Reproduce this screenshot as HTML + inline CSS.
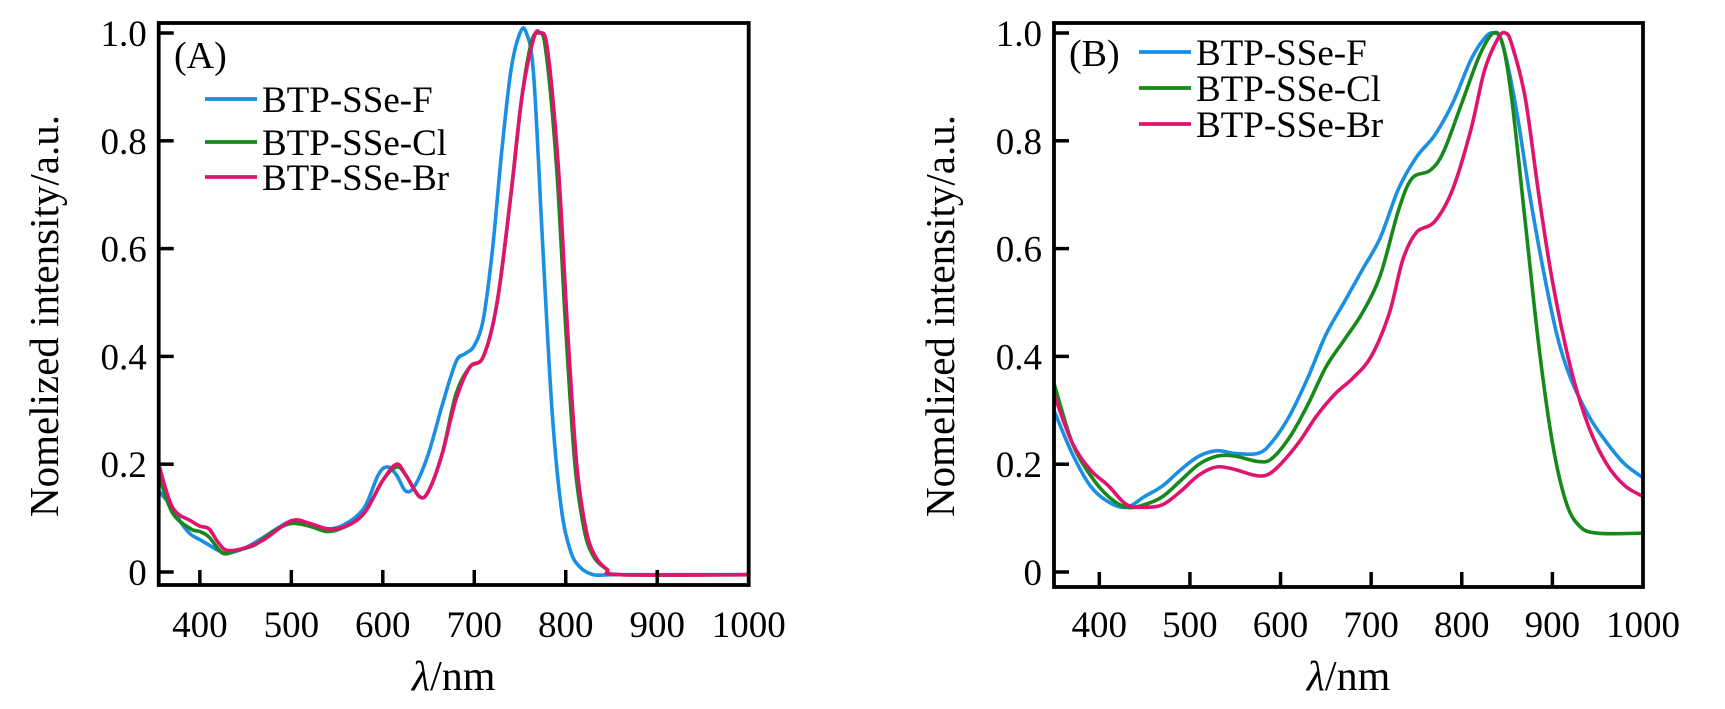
<!DOCTYPE html>
<html><head><meta charset="utf-8"><style>
html,body{margin:0;padding:0;background:#fff;}
svg{display:block;font-family:"Liberation Serif",serif;}
</style></head><body>
<svg id="fig" width="1725" height="709" viewBox="0 0 1725 709" xmlns="http://www.w3.org/2000/svg"></svg>
<script>
const xTicks = [400,500,600,700,800,900,1000];
const yTicks = [0,0.2,0.4,0.6,0.8,1.0];
const yTickLabels = ["0","0.2","0.4","0.6","0.8","1.0"];
const seriesNames = ["BTP-SSe-F","BTP-SSe-Cl","BTP-SSe-Br"];
const colors = ["#1a8fe3","#17891a","#e0146e"];

const aF_x = [355,370,380,390,400,410,420,430,450,470,500,520,540,560,580,595,605,615,625,635,650,665,680,690,700,710,720,730,740,750,757,765,775,785,795,805,815,830,850,900,1000];
const aF_y = [0.15,0.12,0.09,0.07,0.06,0.05,0.04,0.035,0.045,0.065,0.095,0.09,0.08,0.09,0.12,0.18,0.195,0.18,0.15,0.16,0.22,0.31,0.39,0.405,0.42,0.47,0.6,0.78,0.93,1.0,1.0,0.92,0.6,0.3,0.12,0.04,0.01,-0.005,-0.005,-0.005,-0.005];
const aCl_x = [355,370,390,400,410,425,440,460,480,500,520,540,560,580,600,615,625,640,650,665,680,695,710,725,740,752,762,770,778,790,800,810,820,830,845,860,1000];
const aCl_y = [0.18,0.11,0.08,0.075,0.065,0.035,0.04,0.05,0.075,0.09,0.085,0.075,0.085,0.11,0.17,0.195,0.18,0.14,0.15,0.22,0.33,0.38,0.40,0.5,0.7,0.88,0.98,1.0,0.97,0.75,0.45,0.2,0.08,0.03,0.005,-0.005,-0.005];
const aBr_x = [355,370,390,400,410,420,430,450,470,500,520,540,560,580,600,615,625,640,650,665,680,695,710,725,740,752,765,772,780,792,802,812,822,832,845,860,1000];
const aBr_y = [0.2,0.12,0.095,0.085,0.08,0.055,0.04,0.045,0.06,0.095,0.09,0.08,0.085,0.11,0.17,0.2,0.18,0.14,0.15,0.22,0.32,0.38,0.40,0.5,0.7,0.88,0.99,1.0,0.97,0.75,0.45,0.2,0.08,0.03,0.005,-0.005,-0.005];

const bF_x = [350,370,390,410,430,450,470,490,510,530,550,575,590,610,630,650,670,690,710,730,750,770,790,810,825,835,845,860,875,890,905,920,940,960,980,1000];
const bF_y = [0.30,0.22,0.16,0.13,0.12,0.14,0.16,0.19,0.215,0.225,0.22,0.22,0.24,0.29,0.36,0.44,0.5,0.56,0.62,0.71,0.77,0.81,0.87,0.95,0.99,1.0,0.98,0.86,0.7,0.56,0.44,0.36,0.29,0.24,0.2,0.175];
const bCl_x = [350,370,390,410,430,450,470,490,510,530,550,575,590,610,630,650,670,690,710,730,745,765,780,800,820,835,845,855,870,885,900,915,930,950,1000];
const bCl_y = [0.35,0.24,0.18,0.14,0.12,0.125,0.14,0.17,0.2,0.215,0.215,0.205,0.21,0.25,0.31,0.38,0.43,0.48,0.55,0.67,0.73,0.745,0.78,0.87,0.96,1.0,0.98,0.88,0.65,0.42,0.24,0.13,0.085,0.072,0.072];
const bBr_x = [350,370,390,410,430,450,470,490,510,530,550,570,585,600,620,640,660,680,700,720,735,750,770,790,810,825,840,848,855,870,885,900,920,940,960,980,1000];
const bBr_y = [0.33,0.24,0.19,0.16,0.125,0.12,0.125,0.15,0.18,0.195,0.19,0.18,0.18,0.2,0.24,0.29,0.33,0.36,0.4,0.48,0.58,0.63,0.65,0.71,0.82,0.93,0.99,1.0,0.98,0.88,0.7,0.54,0.38,0.27,0.2,0.16,0.14];

const NS = "http://www.w3.org/2000/svg";
const svg = document.getElementById('fig');
function mk(tag, attrs, parent){ const e=document.createElementNS(NS,tag); for(const k in attrs) e.setAttribute(k,attrs[k]); (parent||svg).appendChild(e); return e; }
function smooth(P){
  let d='M'+P[0][0].toFixed(1)+','+P[0][1].toFixed(1);
  for(let i=0;i<P.length-1;i++){
    const p0=P[Math.max(0,i-1)],p1=P[i],p2=P[i+1],p3=P[Math.min(P.length-1,i+2)];
    const c1=[p1[0]+(p2[0]-p0[0])/6,p1[1]+(p2[1]-p0[1])/6];
    const c2=[p2[0]-(p3[0]-p1[0])/6,p2[1]-(p3[1]-p1[1])/6];
    d+=' C'+c1[0].toFixed(1)+','+c1[1].toFixed(1)+' '+c2[0].toFixed(1)+','+c2[1].toFixed(1)+' '+p2[0].toFixed(1)+','+p2[1].toFixed(1);
  }
  return d;
}

function panel(cfg){
  const g = mk('g',{});
  
  
  const L=cfg.left,R=cfg.right,T=cfg.top,B=cfg.bottom;
  const xs = v => L + (v-cfg.xmin)/(1000-cfg.xmin)*(R-L);
  const ys = v => cfg.y0 - v*(cfg.y0-cfg.y1);
  const clip = mk('clipPath',{id:cfg.name+'-clip'},g);
  mk('rect',{x:L,y:T,width:R-L,height:B-T},clip);
  cfg.series.forEach((s,i)=>{
    const P = s[0].map((x,j)=>[xs(x),ys(s[1][j])]);
    const pl = mk('path',{d:smooth(P),fill:'none',stroke:colors[i],'stroke-width':3.6,'stroke-linejoin':'round','clip-path':'url(#'+cfg.name+'-clip)'},g);
    
    
  });
  const fr = mk('rect',{x:L,y:T,width:R-L,height:B-T,fill:'none',stroke:'#000','stroke-width':3.8},g);
  
  
  xTicks.forEach(v=>{
    const x=xs(v);
    if(v<1000) mk('line',{x1:x,x2:x,y1:B,y2:B-15,stroke:'#000','stroke-width':3.5},g);
    const t = mk('text',{x:x,y:637,'font-size':37,'text-anchor':'middle'},g);
    t.textContent = v;
    
    
  });
  yTicks.forEach((v,i)=>{
    const y=ys(v);
    mk('line',{x1:L,x2:L+15,y1:y,y2:y,stroke:'#000','stroke-width':3.5},g);
    const t = mk('text',{x:L-12,y:y+13,'font-size':37,'text-anchor':'end'},g);
    t.textContent = yTickLabels[i];
    
    
  });
  const yt = mk('text',{x:0,y:0,'font-size':41,'text-anchor':'middle',transform:'translate('+cfg.ylx+',316) rotate(-90)'},g);
  yt.textContent = 'Nomelized intensity/a.u.';
  
  
  const xt = mk('text',{x:(L+R)/2,y:690,'font-size':42,'text-anchor':'middle'},g);
  xt.innerHTML = '<tspan font-style="italic">λ</tspan>/nm';
  
  
  const pl = mk('text',{x:cfg.lab[0],y:cfg.lab[1],'font-size':38},g);
  pl.textContent = cfg.label;
  
  
  cfg.leg.forEach((ly,i)=>{
    const le = mk('g',{},g);
    
    
    mk('line',{x1:cfg.legx,x2:cfg.legx+52,y1:ly,y2:ly,stroke:colors[i],'stroke-width':3.8},le);
    const t = mk('text',{x:cfg.legx+57,y:ly+13,'font-size':37},le);
    t.textContent = seriesNames[i];
  });
}
panel({name:'panel-a',left:158.7,right:748.7,top:23,bottom:585,xmin:355,y0:572,y1:33,ylx:58,
  series:[[aF_x,aF_y],[aCl_x,aCl_y],[aBr_x,aBr_y]],label:'(A)',lab:[174,68],legx:205,leg:[99,142,177]});
panel({name:'panel-b',left:1054,right:1643,top:23,bottom:587,xmin:350,y0:572,y1:33,ylx:954,
  series:[[bF_x,bF_y],[bCl_x,bCl_y],[bBr_x,bBr_y]],label:'(B)',lab:[1069,66],legx:1139,leg:[52,88,124]});
</script>
</body></html>
